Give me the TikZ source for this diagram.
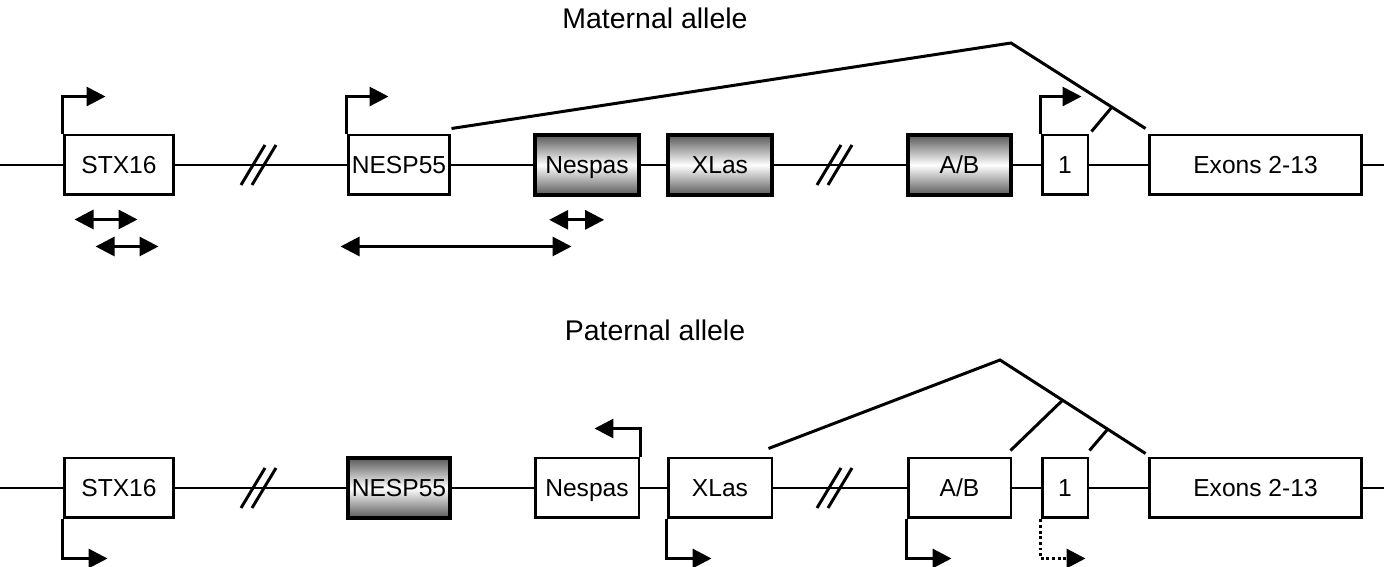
\documentclass[tikz,border=0pt]{standalone}
\usepackage{fontspec}
\setmainfont{Liberation Sans}
\usetikzlibrary{arrows.meta,calc}

\begin{document}
\begin{tikzpicture}[x=0.02cm,y=-0.02cm,line width=1.7pt,
	>={Triangle[length=0.38cm,width=0.38cm]},
	exon/.style={draw,fill=white,inner sep=0pt,minimum height=1.2cm,text height=10pt,text depth=0pt,font=\fontsize{14}{16}\selectfont},
	silent/.style={exon,top color=black!65,bottom color=black!65,middle color=white,line width=2.1pt},
	title/.style={font=\fontsize{16.2}{19}\selectfont}]
	\useasboundingbox (0,0) rectangle (1384,567);
	% maternal allele
	\node[title] (mTitle) at (655,18) {Maternal allele};
	\coordinate (mL) at (0,165); \coordinate (mR) at (1384,165);
	\draw (mL) -- (mR);
	\node[exon,minimum width=2.2cm] (mSTX) at (119,165) {STX16};
	\node[exon,minimum width=2.04cm] (mNESP) at (399,165) {NESP55};
	\node[silent,minimum width=2.08cm] (mNespas) at (587,165) {Nespas};
	\node[silent,minimum width=2.08cm] (mXLas) at (720,165) {XLas};
	\node[silent,minimum width=2.06cm] (mAB) at (959.5,165) {A/B};
	\node[exon,minimum width=0.92cm] (mEx1) at (1065,165) {1};
	\node[exon,minimum width=4.26cm] (mExons) at (1255.5,165) {Exons 2-13};
	\draw[->] (mSTX.north west) -- ++(0,-37) -- ++(43,0);
	\draw[->] (mNESP.north west) -- ++(0,-37) -- ++(42,0);
	\draw[->] (mEx1.north west) -- ++(0,-37) -- ++(41,0);
	\coordinate (mApex) at (1011,43);
	\coordinate (mAcc) at ($(mExons.north west)+(-2,-5)$);
	\draw ($(mNESP.north east)+(0,-5)$) -- (mApex) -- (mAcc);
	\draw ($(mEx1.north east)+(2,-2)$) -- ($(mApex)!0.75!(mAcc)$);
	\draw[<->] ($(mSTX.south west)+(12,23)$) -- ++(63,0);
	\draw[<->] ($(mSTX.south west)+(33,50)$) -- ++(63,0);
	\draw[<->] ($(mNESP.south west)+(-6,50)$) -- ++(231,0);
	\draw[<->] ($(mNespas.south west)+(16,23)$) -- ++(55,0);
	% paternal allele
	\node[title] (pTitle) at (655,330) {Paternal allele};
	\coordinate (pL) at (0,488); \coordinate (pR) at (1384,488);
	\draw (pL) -- (pR);
	\node[exon,minimum width=2.2cm] (pSTX) at (119,488) {STX16};
	\node[silent,minimum width=2.04cm] (pNESP) at (399,488) {NESP55};
	\node[exon,minimum width=2.08cm] (pNespas) at (587,488) {Nespas};
	\node[exon,minimum width=2.08cm] (pXLas) at (720,488) {XLas};
	\node[exon,minimum width=2.06cm] (pAB) at (959.5,488) {A/B};
	\node[exon,minimum width=0.92cm] (pEx1) at (1065,488) {1};
	\node[exon,minimum width=4.26cm] (pExons) at (1255.5,488) {Exons 2-13};
	\draw[->] (pSTX.south west) -- ++(0,39) -- ++(45,0);
	\draw[->] (pNespas.north east) -- ++(0,-28) -- ++(-46,0);
	\draw[->] (pXLas.south west) -- ++(0,39) -- ++(45,0);
	\draw[->] (pAB.south west) -- ++(0,39) -- ++(45,0);
	\draw[->,dash pattern=on 1.6pt off 1.6pt] (pEx1.south west) -- ++(0,39) -- ++(45,0);
	\coordinate (pApex) at (1000,360);
	\coordinate (pAcc) at ($(pExons.north west)+(-2,-3)$);
	\draw ($(pXLas.north east)+(-5,-8)$) -- (pApex) -- (pAcc);
	\draw ($(pAB.north east)+(-2,-6)$) -- ($(pApex)!0.43!(pAcc)$);
	\draw ($(pEx1.north east)+(0,-6)$) -- ($(pApex)!0.74!(pAcc)$);
	% breaks
	\foreach \x/\y in {259/165,835/165,259/488,835/488}
		\draw (\x-18,\y+20) -- (\x+6,\y-20) (\x-7,\y+20) -- (\x+17,\y-20);
\end{tikzpicture}
\end{document}
